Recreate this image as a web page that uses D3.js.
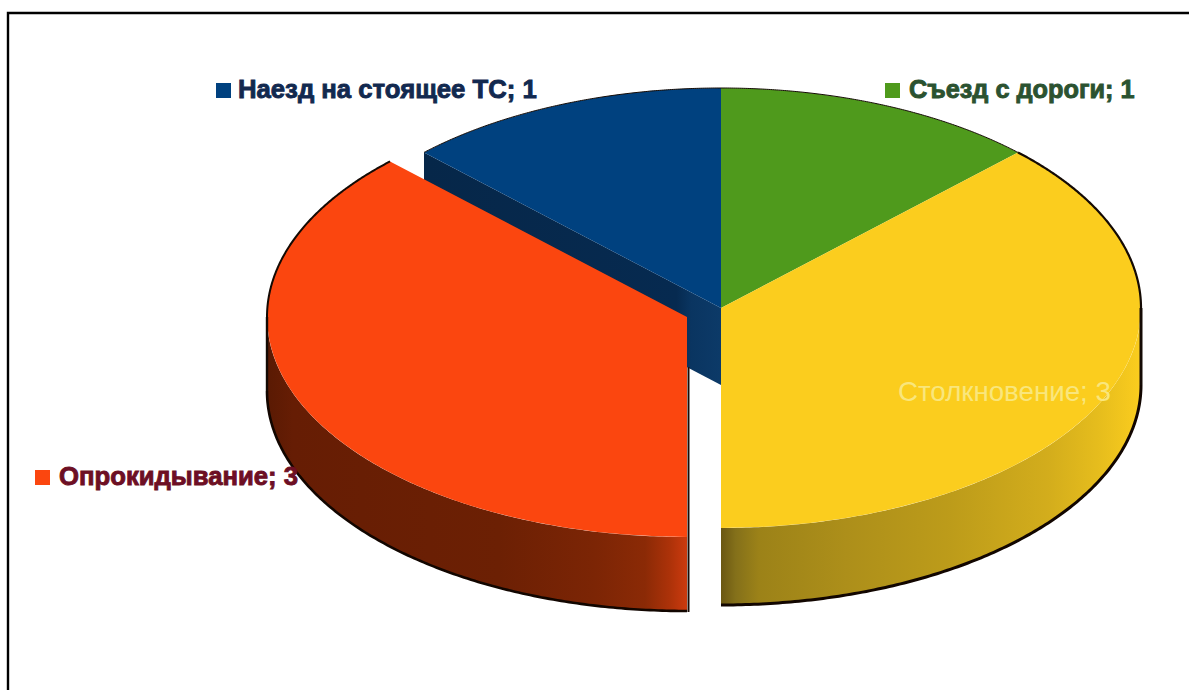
<!DOCTYPE html>
<html lang="ru">
<head>
<meta charset="utf-8">
<title>Виды ДТП</title>
<script src="https://cdn.jsdelivr.net/npm/d3@7/dist/d3.min.js"></script>
<style>
  html, body { margin: 0; padding: 0; background: #fff; overflow: hidden; }
  svg { display: block; font-family: "Liberation Sans", Arial, sans-serif; }
</style>
</head>
<body>
<svg id="chart" width="1189" height="690"></svg>
<script>
// Accident counts, clockwise from twelve o'clock
const categories = ["Съезд с дороги", "Столкновение", "Опрокидывание", "Наезд на стоящее ТС"];
const counts = [1, 3, 3, 1];
const topColors = ["#4f9a1c", "#fbcd1e", "#fb460f", "#00417f"];
const labelColors = ["#2b5230", "#f9e67c", "#6d0f24", "#12294f"];

// Disc geometry: ellipse radii, per-slice wall height and per-slice centre
const rx = 420, ry = 220;
const depths = [77, 77, 74, 77];
const centers = [[721, 308], [721, 308], [687, 317], [721, 308]];

// Label placement [x, baseline, key x, key y]; the yellow slice label has no key
const labelPlaces = [
  [909, 98, 885, 83],
  [898, 401, null, null],
  [59, 485, 35, 470],
  [238, 98, 216, 83]
];

const svg = d3.select("#chart");
const defs = svg.append("defs");
const slices = d3.pie().sort(null).startAngle(0).endAngle(2 * Math.PI)(counts);
const unitArc = d3.arc().innerRadius(0).outerRadius(1);
const line = d3.line();

const rimPoint = (i, a, dy = 0) => [
  centers[i][0] + rx * Math.sin(a),
  centers[i][1] - ry * Math.cos(a) + dy
];
const sweep = (a0, a1) => d3.range(0, 161).map(k => a0 + (a1 - a0) * k / 160);

// Stepped horizontal shading for the walls
function wallGradient(id, from, to, stops) {
  const x = d3.scaleLinear().domain([0, 1]).range([from, to]);
  defs.append("linearGradient")
    .attr("id", id)
    .attr("gradientUnits", "userSpaceOnUse")
    .attr("x1", x(0)).attr("x2", x(1)).attr("y1", 0).attr("y2", 0)
    .selectAll("stop").data(stops).join("stop")
    .attr("offset", d => d[0]).attr("stop-color", d => d[1]);
}
wallGradient("wallYellow", 721, 1141, [
  [0, "#6a5712"], [0.035, "#84701a"], [0.09, "#9c8218"], [0.3, "#ad8f1a"],
  [0.55, "#bd9c1a"], [0.78, "#d3ad1c"], [0.9, "#e6bd1d"], [1, "#fbcd1e"]
]);
wallGradient("wallRed", 268, 687, [
  [0, "#5a1a03"], [0.06, "#661d04"], [0.55, "#6c2004"], [0.78, "#7c2505"],
  [0.9, "#8b2a06"], [0.96, "#ad3209"], [1, "#cc3a0e"]
]);
wallGradient("wallBlue", 424, 721, [
  [0, "#062749"], [0.85, "#062a50"], [0.9, "#0a3561"], [1, "#0c3a68"]
]);

// Straight cut face of the blue slice, seen behind the lifted red slice
const blueEnd = slices[3].startAngle;
const bluePts = [rimPoint(3, blueEnd), centers[3],
  [centers[3][0], centers[3][1] + depths[3]], rimPoint(3, blueEnd, depths[3])];
svg.append("path")
  .attr("d", line(bluePts) + "Z")
  .attr("fill", "url(#wallBlue)");

// Outer walls of the two front slices
function drawWall(i, a0, a1, fill, edge) {
  const top = sweep(a0, a1).map(a => rimPoint(i, a));
  const bottom = sweep(a1, a0).map(a => rimPoint(i, a, depths[i]));
  svg.append("path").attr("d", line(top.concat(bottom)) + "Z").attr("fill", fill);
  svg.append("path")
    .attr("d", line(bottom))
    .attr("fill", "none").attr("stroke", "#120600").attr("stroke-width", edge);
}
drawWall(1, Math.PI / 2, slices[1].endAngle, "url(#wallYellow)", 3);
drawWall(2, slices[2].startAngle, 3 * Math.PI / 2, "url(#wallRed)", 2.6);

// Elliptical top faces: a unit d3.arc squashed into perspective
svg.selectAll("path.top")
  .data(slices)
  .join("path")
  .attr("class", "top")
  .attr("d", d => unitArc(d))
  .attr("transform", (d, i) => `translate(${centers[i]}) scale(${rx},${ry})`)
  .attr("fill", (d, i) => topColors[i]);

// Dark rim along the far edge of the disc and the wall's right and left sides
const rims = [
  [0, slices[0].startAngle, slices[0].endAngle, 1],
  [1, slices[1].startAngle, Math.PI / 2, 2.2],
  [2, 3 * Math.PI / 2, slices[2].endAngle, 2],
  [3, slices[3].startAngle, slices[3].endAngle, 1]
];
rims.forEach(([i, a0, a1, w]) => {
  svg.append("path")
    .attr("d", line(sweep(a0, a1).map(a => rimPoint(i, a))))
    .attr("fill", "none").attr("stroke", "#140a04").attr("stroke-width", w);
});
svg.append("path")
  .attr("d", line([rimPoint(1, Math.PI / 2), rimPoint(1, Math.PI / 2, depths[1])]))
  .attr("stroke", "#140a04").attr("stroke-width", 3);
svg.append("path")
  .attr("d", line([rimPoint(2, 3 * Math.PI / 2), rimPoint(2, 3 * Math.PI / 2, depths[2])]))
  .attr("stroke", "#140a04").attr("stroke-width", 2.4);

// Dark right-hand edge of the red slice, starting where the blue cut face ends
const gapTop = centers[3][1] + depths[3] - (centers[3][0] - centers[2][0]) * ry / rx;
svg.append("path")
  .attr("d", line([
    [centers[2][0] + 1.5, gapTop],
    [centers[2][0] + 1.5, rimPoint(2, Math.PI, depths[2])[1] + 1]
  ]))
  .attr("stroke", "#1a0a04").attr("stroke-width", 2);

// Legend keys and labels
const bold = [true, false, true, true];
const fontSizes = [25.3, 27.7, 25.7, 25.7];
categories.forEach((name, i) => {
  const [x, y, kx, ky] = labelPlaces[i];
  if (kx !== null) {
    svg.append("rect")
      .attr("x", kx).attr("y", ky)
      .attr("width", 15).attr("height", 15)
      .attr("fill", topColors[i]);
  }
  svg.append("text")
    .attr("x", x).attr("y", y)
    .attr("font-size", fontSizes[i])
    .attr("font-weight", bold[i] ? 700 : 400)
    .attr("fill", labelColors[i])
    .attr("stroke", bold[i] ? labelColors[i] : "none")
    .attr("stroke-width", bold[i] ? 0.9 : 0)
    .text(`${name}; ${counts[i]}`);
});

// Frame: top and left rules only
svg.append("path")
  .attr("d", line([[8, 690], [8, 13], [1189, 13]]))
  .attr("fill", "none").attr("stroke", "#000").attr("stroke-width", 2.4);
</script>
</body>
</html>
